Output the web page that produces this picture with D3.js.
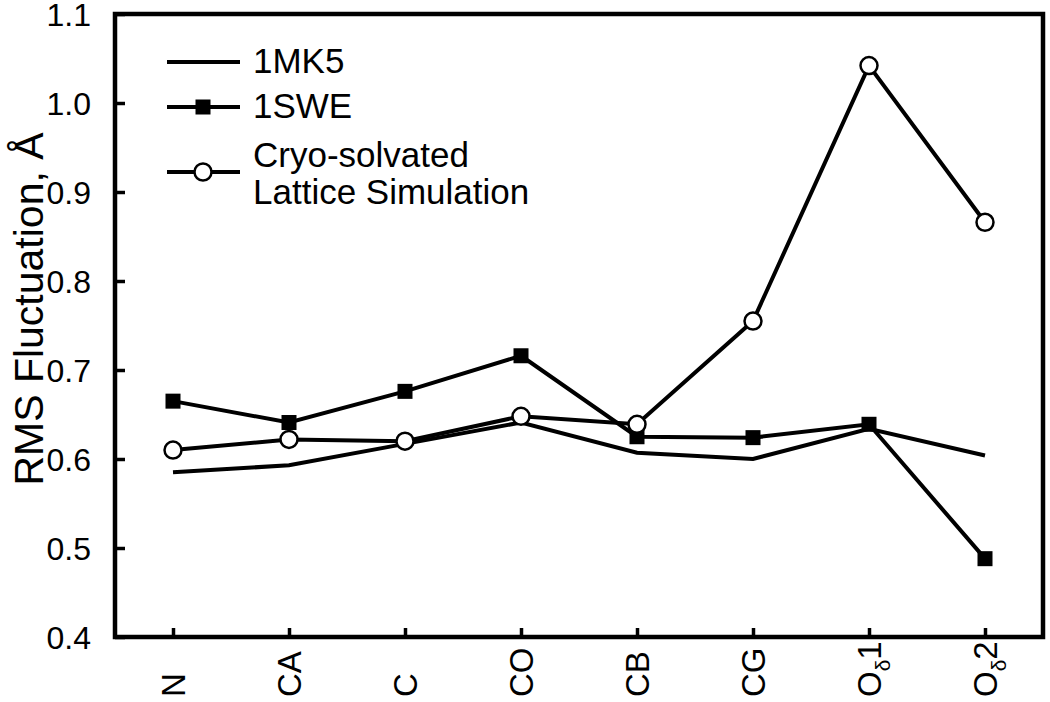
<!DOCTYPE html>
<html>
<head>
<meta charset="utf-8">
<script src="https://cdn.jsdelivr.net/npm/d3@7"></script>
<style>
  body { margin: 0; background: #fff; }
  svg { font-family: "Liberation Sans", Arial, sans-serif; }
</style>
</head>
<body>
<svg id="chart" width="1050" height="702"></svg>
<script>
// atoms along the x axis (sub = subscript part of the label)
var atoms = ["N", "CA", "C", "CO", "CB", "CG", "Od1", "Od2"];
var atomLabels = [
  {main: "N"}, {main: "CA"}, {main: "C"}, {main: "CO"}, {main: "CB"}, {main: "CG"},
  {main: "O", sub: "\u03b4", tail: "1"}, {main: "O", sub: "\u03b4", tail: "2"}
];
var yTicks = [0.4, 0.5, 0.6, 0.7, 0.8, 0.9, 1.0, 1.1];

var mk5 = [0.585, 0.593, 0.617, 0.641, 0.607, 0.600, 0.634, 0.604];
var swe = [0.665, 0.641, 0.676, 0.716, 0.625, 0.624, 0.639, 0.488];
var cryo = [0.610, 0.622, 0.620, 0.648, 0.639, 0.755, 1.042, 0.866];

var svg = d3.select("#chart");
var pLeft = 115, pRight = 1043, pTop = 14, pBottom = 637;
var lw = 4; // series line width

var x = d3.scalePoint().domain(atoms).range([pLeft, pRight]).padding(0.5);
var y = d3.scaleLinear().domain([0.4, 1.1]).range([pBottom, pTop]);

var line = d3.line()
  .x(function(d, i) { return x(atoms[i]); })
  .y(function(d) { return y(d); });

// frame
svg.append("rect")
  .attr("x", pLeft).attr("y", pTop)
  .attr("width", pRight - pLeft).attr("height", pBottom - pTop)
  .attr("fill", "none").attr("stroke", "#000").attr("stroke-width", 4.5);

// y axis ticks + labels
var yAxis = d3.axisLeft(y).tickValues(yTicks).tickSize(-10).tickPadding(24)
  .tickFormat(d3.format(".1f"));
var gy = svg.append("g").attr("transform", "translate(" + pLeft + ",0)").call(yAxis);
gy.select(".domain").remove();
gy.selectAll(".tick line").attr("stroke-width", 3.5);
gy.selectAll(".tick text").attr("font-size", 32).attr("font-family", "Liberation Sans, Arial, sans-serif")
  .attr("fill", "#000").attr("dy", "0.36em");

// x axis ticks
var xAxis = d3.axisBottom(x).tickSize(-9).tickFormat("");
var gx = svg.append("g").attr("transform", "translate(0," + pBottom + ")").call(xAxis);
gx.select(".domain").remove();
gx.selectAll(".tick line").attr("stroke-width", 3.5);

// rotated x labels, bottom aligned
var xl = svg.append("g").selectAll("text")
  .data(atomLabels)
  .enter()
  .append("text")
  .attr("transform", function(d, i) { return "translate(" + (x(atoms[i]) + 12) + ",697) rotate(-90)"; })
  .attr("font-size", 33)
  .attr("fill", "#000");
xl.append("tspan").text(function(d) { return d.main; });
xl.filter(function(d) { return d.sub; }).append("tspan")
  .attr("font-size", 21).attr("dy", 9).text(function(d) { return d.sub; });
xl.filter(function(d) { return d.tail; }).append("tspan")
  .attr("dy", -9).text(function(d) { return d.tail; });

// y title
svg.append("text")
  .attr("transform", "translate(43,309) rotate(-90)")
  .attr("text-anchor", "middle")
  .attr("font-size", 41)
  .attr("fill", "#000")
  .text("RMS Fluctuation, \u00c5");

// series
var plot = svg.append("g");
plot.append("path").datum(mk5).attr("d", line)
  .attr("fill", "none").attr("stroke", "#000").attr("stroke-width", lw);

plot.append("path").datum(swe).attr("d", line)
  .attr("fill", "none").attr("stroke", "#000").attr("stroke-width", lw);
plot.selectAll("rect.swe").data(swe).enter().append("rect")
  .attr("class", "swe")
  .attr("x", function(d, i) { return x(atoms[i]) - 7.5; })
  .attr("y", function(d) { return y(d) - 7.5; })
  .attr("width", 15).attr("height", 15).attr("fill", "#000");

plot.append("path").datum(cryo).attr("d", line)
  .attr("fill", "none").attr("stroke", "#000").attr("stroke-width", lw);
plot.selectAll("circle.cryo").data(cryo).enter().append("circle")
  .attr("class", "cryo")
  .attr("cx", function(d, i) { return x(atoms[i]); })
  .attr("cy", function(d) { return y(d); })
  .attr("r", 8.5).attr("fill", "#fff").attr("stroke", "#000").attr("stroke-width", 2.5);

// legend
var legend = svg.append("g");
var lx0 = 167, lx1 = 240, lxm = 203, tx = 253, lfs = 35;
legend.append("line").attr("x1", lx0).attr("x2", lx1).attr("y1", 62).attr("y2", 62)
  .attr("stroke", "#000").attr("stroke-width", lw);
legend.append("text").attr("x", tx).attr("y", 73).attr("font-size", lfs).text("1MK5");

legend.append("line").attr("x1", lx0).attr("x2", lx1).attr("y1", 107).attr("y2", 107)
  .attr("stroke", "#000").attr("stroke-width", lw);
legend.append("rect").attr("x", lxm - 7.5).attr("y", 107 - 7.5).attr("width", 15).attr("height", 15);
legend.append("text").attr("x", tx).attr("y", 118).attr("font-size", lfs).text("1SWE");

legend.append("line").attr("x1", lx0).attr("x2", lx1).attr("y1", 172).attr("y2", 172)
  .attr("stroke", "#000").attr("stroke-width", lw);
legend.append("circle").attr("cx", lxm).attr("cy", 172).attr("r", 8.5)
  .attr("fill", "#fff").attr("stroke", "#000").attr("stroke-width", 2.5);
legend.append("text").attr("x", tx).attr("y", 167).attr("font-size", lfs).text("Cryo-solvated");
legend.append("text").attr("x", tx).attr("y", 204).attr("font-size", lfs).text("Lattice Simulation");
</script>
</body>
</html>
